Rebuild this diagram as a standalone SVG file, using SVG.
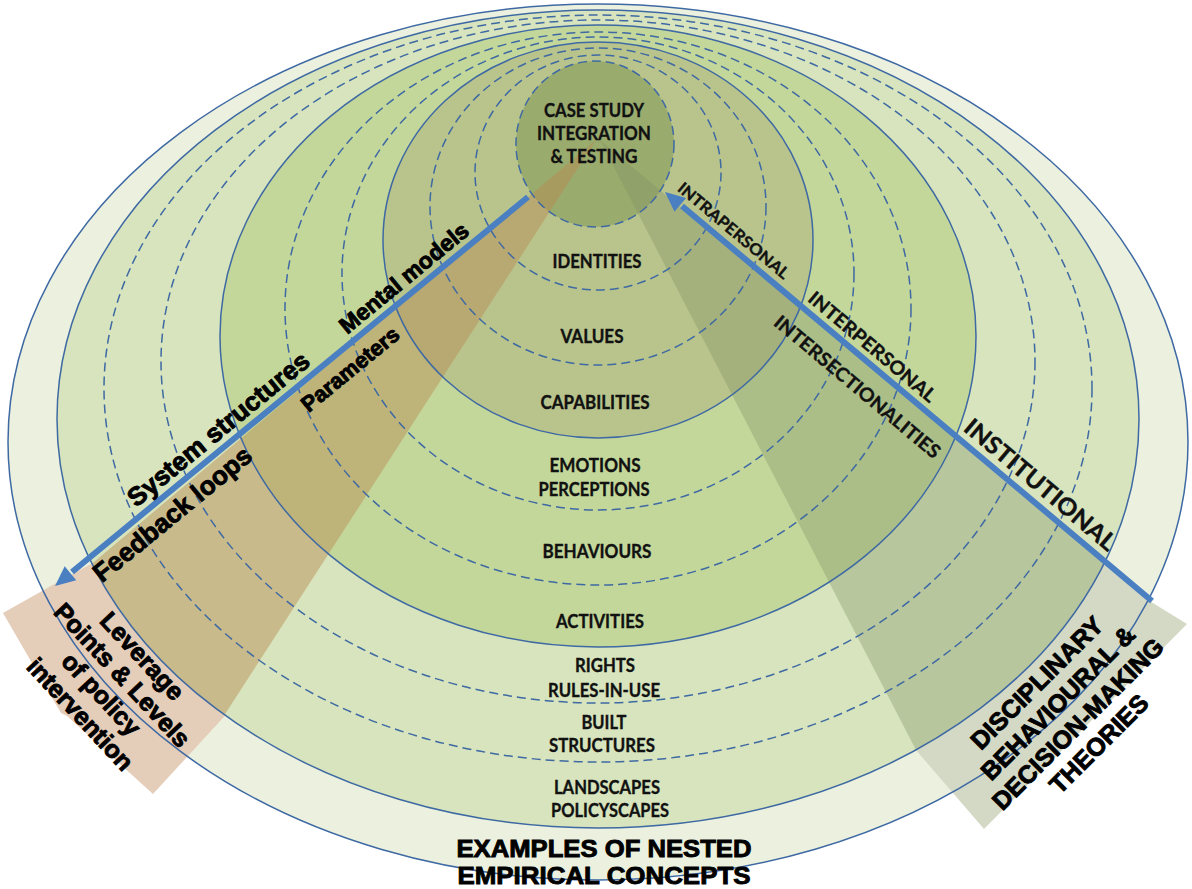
<svg xmlns="http://www.w3.org/2000/svg" width="1192" height="889" viewBox="0 0 1192 889">
<defs>
<style>
.s{fill:none;stroke:#3e69a3;stroke-width:1.5}
.d{fill:none;stroke:#3e69a3;stroke-width:1.5;stroke-dasharray:9 5}
.c{font-family:Lato,"Open Sans",sans-serif;font-weight:700;font-size:18px;fill:#111;stroke:#111;stroke-width:0.35;text-anchor:middle}
.r{font-family:Lato,"Open Sans",sans-serif;font-weight:700;fill:#111;stroke:#111;stroke-width:0.35;text-anchor:middle}
.h{font-family:"Liberation Sans",Arial,sans-serif;font-weight:700;fill:#000;stroke:#000;stroke-width:0.9;text-anchor:middle}
.shaft{stroke:#4a7fc1;stroke-width:6;fill:none}
.head{fill:#4a7fc1}
</style>
<clipPath id="cE2"><ellipse cx="598" cy="419" rx="541" ry="409"/></clipPath>
</defs>

<g id="fills">
<ellipse cx="598" cy="442" rx="590" ry="438" fill="#ebf1de"/>
</g>
<g id="box-left-bg"><polygon points="3,613 58,582 120,548 300,634 153,794 67,716 61,713" fill="#e4cdb9"/></g>
<g id="box-right-bg"><polygon points="1187,624 1148,600 1080,545 890,720 984,829" fill="#d4d9c6"/></g>
<g id="rings-fill">
<ellipse cx="598" cy="419" rx="541" ry="409" fill="#d7e4bd"/>
<ellipse cx="598" cy="336" rx="378" ry="311" fill="#c4d79b"/>
<ellipse cx="598" cy="240" rx="215" ry="198" fill="#b9c48c"/>
<ellipse cx="595" cy="144" rx="79" ry="83" fill="#9aab6e"/>
</g>
<g id="wedges" clip-path="url(#cE2)">
<polygon points="596,140 0,641 0,889 112,889" fill="#b8874f" fill-opacity="0.45"/>
<polygon points="600,140 1190,634 1190,889 988,889" fill="#7f9060" fill-opacity="0.35"/>
</g>
<g id="rings-stroke">
<ellipse class="s" cx="598" cy="442" rx="590" ry="438"/>
<ellipse class="s" cx="598" cy="419" rx="541" ry="409"/>
<ellipse class="d" cx="598" cy="388.5" rx="494" ry="373.5"/>
<ellipse class="d" cx="598" cy="361.5" rx="437" ry="341.5"/>
<ellipse class="s" cx="598" cy="336" rx="378" ry="311"/>
<ellipse class="d" cx="598" cy="308.5" rx="313" ry="276.5"/>
<ellipse class="d" cx="598" cy="273.5" rx="256" ry="236.5"/>
<ellipse class="s" cx="598" cy="240" rx="215" ry="198"/>
<ellipse class="d" cx="598" cy="206.5" rx="168" ry="158.5"/>
<ellipse class="d" cx="598" cy="172.5" rx="123" ry="117.5"/>
<ellipse class="d" cx="595" cy="144" rx="79" ry="83"/>
</g>
<g id="connectors">
<line class="shaft" x1="528" y1="197" x2="72" y2="572"/>
<polygon class="head" points="55,586 76.2,580.3 64.7,566.3"/>
<line class="shaft" x1="1152" y1="601" x2="682" y2="206"/>
<polygon class="head" points="665,192 686.1,198 674.5,211.8"/>
</g>
<g id="center-labels">
<text class="c" x="594" y="117" textLength="100" lengthAdjust="spacingAndGlyphs">CASE STUDY</text>
<text class="c" x="594" y="140" textLength="114" lengthAdjust="spacingAndGlyphs">INTEGRATION</text>
<text class="c" x="594" y="163" textLength="87" lengthAdjust="spacingAndGlyphs">&amp; TESTING</text>
<text class="c" x="597" y="268" textLength="89" lengthAdjust="spacingAndGlyphs">IDENTITIES</text>
<text class="c" x="592" y="343" textLength="63" lengthAdjust="spacingAndGlyphs">VALUES</text>
<text class="c" x="595" y="409" textLength="109" lengthAdjust="spacingAndGlyphs">CAPABILITIES</text>
<text class="c" x="595" y="472" textLength="91" lengthAdjust="spacingAndGlyphs">EMOTIONS</text>
<text class="c" x="594" y="496" textLength="111" lengthAdjust="spacingAndGlyphs">PERCEPTIONS</text>
<text class="c" x="597" y="558" textLength="109" lengthAdjust="spacingAndGlyphs">BEHAVIOURS</text>
<text class="c" x="600" y="628" textLength="88" lengthAdjust="spacingAndGlyphs">ACTIVITIES</text>
<text class="c" x="605" y="672" textLength="60" lengthAdjust="spacingAndGlyphs">RIGHTS</text>
<text class="c" x="604" y="697" textLength="112" lengthAdjust="spacingAndGlyphs">RULES-IN-USE</text>
<text class="c" x="604" y="729" textLength="45" lengthAdjust="spacingAndGlyphs">BUILT</text>
<text class="c" x="602" y="752" textLength="106" lengthAdjust="spacingAndGlyphs">STRUCTURES</text>
<text class="c" x="607" y="794" textLength="106" lengthAdjust="spacingAndGlyphs">LANDSCAPES</text>
<text class="c" x="610" y="817" textLength="118" lengthAdjust="spacingAndGlyphs">POLICYSCAPES</text>
</g>
<g id="title">
<text class="h" x="604" y="857" font-size="24" stroke-width="1.3" textLength="295" lengthAdjust="spacingAndGlyphs">EXAMPLES OF NESTED</text>
<text class="h" x="604" y="884" font-size="24" stroke-width="1.3" textLength="293" lengthAdjust="spacingAndGlyphs">EMPIRICAL CONCEPTS</text>
</g>
<g id="leverage-labels">
<text class="h" font-size="23" stroke-width="0.5" transform="translate(409,284) rotate(-39.4)">Mental models</text>
<text class="h" font-size="26" stroke-width="0.5" transform="translate(224,436) rotate(-39.4)">System structures</text>
<text class="h" font-size="22" stroke-width="0.5" transform="translate(355,375) rotate(-39.4)">Parameters</text>
<text class="h" font-size="26" stroke-width="0.5" transform="translate(178,521) rotate(-39.4)">Feedback loops</text>
</g>
<g id="box-left-text">
<text class="h" font-size="25" transform="translate(136,662) rotate(47)">Leverage</text>
<text class="h" font-size="25" transform="translate(116,681) rotate(47)">Points &amp; Levels</text>
<text class="h" font-size="25" transform="translate(95,700) rotate(47)">of policy</text>
<text class="h" font-size="25" transform="translate(74,720) rotate(47)">intervention</text>
</g>
<g id="theory-labels">
<text class="r" font-size="16" textLength="140" lengthAdjust="spacingAndGlyphs" transform="translate(730,235) rotate(40)">INTRAPERSONAL</text>
<text class="r" font-size="19" textLength="160" lengthAdjust="spacingAndGlyphs" transform="translate(868,352) rotate(40)">INTERPERSONAL</text>
<text class="r" font-size="19" textLength="210" lengthAdjust="spacingAndGlyphs" transform="translate(853,392) rotate(40)">INTERSECTIONALITIES</text>
<text class="r" font-size="24" textLength="190" lengthAdjust="spacingAndGlyphs" transform="translate(1035,491) rotate(40)">INSTITUTIONAL</text>
</g>
<g id="box-right-text">
<text class="h" font-size="25" stroke-width="1.1" transform="translate(1043,689) rotate(-45)">DISCIPLINARY</text>
<text class="h" font-size="25" stroke-width="1.1" transform="translate(1064,709) rotate(-45)">BEHAVIOURAL &amp;</text>
<text class="h" font-size="25" stroke-width="1.1" transform="translate(1084,730) rotate(-45)">DECISION-MAKING</text>
<text class="h" font-size="25" stroke-width="1.1" transform="translate(1105,750) rotate(-45)">THEORIES</text>
</g>
</svg>
